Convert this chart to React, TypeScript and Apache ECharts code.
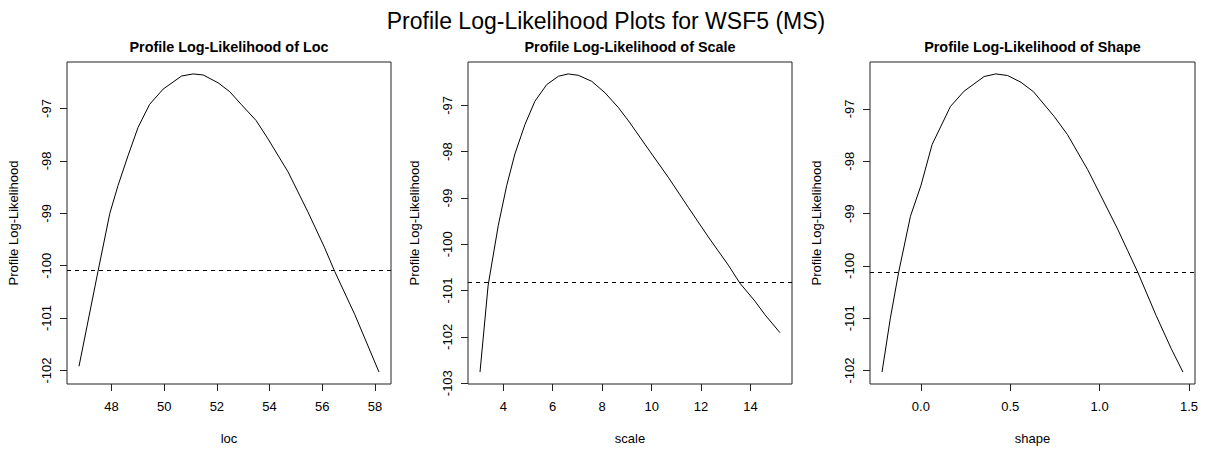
import React, { useEffect, useRef } from "react";
import * as echarts from "echarts";

const mainTitle = "Profile Log-Likelihood Plots for WSF5 (MS)";
const panelTitles = [
  "Profile Log-Likelihood of Loc",
  "Profile Log-Likelihood of Scale",
  "Profile Log-Likelihood of Shape",
];
const xNames = ["loc", "scale", "shape"];
const yName = "Profile Log-Likelihood";

const locX = [46.77, 47.49, 47.94, 48.25, 48.63, 49.01, 49.45, 49.96, 50.66, 51.1, 51.48, 52.05, 52.49, 52.92, 53.49, 53.94, 54.7, 55.45, 56.09, 56.47, 57.23, 58.15];
const locY = [-101.92, -100.11, -99.0, -98.47, -97.9, -97.36, -96.92, -96.63, -96.38, -96.34, -96.36, -96.51, -96.68, -96.92, -97.23, -97.58, -98.21, -98.97, -99.66, -100.11, -100.93, -102.03];

const scaleX = [3.06, 3.39, 3.8, 4.14, 4.47, 4.88, 5.28, 5.76, 6.23, 6.63, 7.04, 7.58, 8.12, 8.66, 9.1, 9.86, 10.67, 11.48, 12.29, 13.1, 13.57, 14.18, 14.58, 15.19];
const scaleY = [-102.76, -100.88, -99.59, -98.73, -98.05, -97.41, -96.91, -96.55, -96.37, -96.32, -96.35, -96.48, -96.73, -97.05, -97.36, -97.94, -98.55, -99.2, -99.84, -100.45, -100.84, -101.23, -101.52, -101.91];

const shapeX = [-0.217, -0.171, -0.124, -0.058, 0.0, 0.063, 0.166, 0.242, 0.354, 0.419, 0.485, 0.56, 0.63, 0.745, 0.82, 0.933, 1.007, 1.101, 1.157, 1.213, 1.316, 1.4, 1.466];
const shapeY = [-102.03, -101.01, -100.12, -99.05, -98.47, -97.68, -96.95, -96.66, -96.38, -96.33, -96.36, -96.49, -96.67, -97.14, -97.49, -98.16, -98.66, -99.3, -99.71, -100.12, -100.95, -101.58, -102.03];

const cutoffs = [-100.08, -100.83, -100.13];

const locXTicks = [48, 50, 52, 54, 56, 58];
const scaleXTicks = [4, 6, 8, 10, 12, 14];
const shapeXTicks = [0.0, 0.5, 1.0, 1.5];
const locYTicks = [-102, -101, -100, -99, -98, -97];
const scaleYTicks = [-103, -102, -101, -100, -99, -98, -97];
const shapeYTicks = [-102, -101, -100, -99, -98, -97];

const FONT = "'Liberation Sans', Arial, sans-serif";

function padRange(arr: number[]): [number, number] {
  const lo = Math.min(...arr);
  const hi = Math.max(...arr);
  const r = hi - lo;
  return [lo - 0.04 * r, hi + 0.04 * r];
}

export default function App() {
  const ref = useRef<HTMLDivElement>(null);
  useEffect(() => {
    if (!ref.current) return;
    const chart = echarts.init(ref.current, undefined, { renderer: "svg" });

    const panels = [
      { xs: locX, ys: locY, xt: locXTicks, yt: locYTicks, fmt: (v: number) => String(v), left: 67, width: 324, height: 325 },
      { xs: scaleX, ys: scaleY, xt: scaleXTicks, yt: scaleYTicks, fmt: (v: number) => String(v), left: 468, width: 324, height: 324 },
      { xs: shapeX, ys: shapeY, xt: shapeXTicks, yt: shapeYTicks, fmt: (v: number) => v.toFixed(1), left: 870, width: 325, height: 324 },
    ];

    const labelStyle = { color: "#000", fontSize: 13, fontFamily: FONT };

    const grid = panels.map((p) => ({
      left: p.left,
      top: 62,
      width: p.width,
      height: p.height,
      show: true,
      borderColor: "#222",
      borderWidth: 1,
      backgroundColor: "transparent",
      containLabel: false,
    }));

    const xAxis = panels.map((p, i) => {
      const [mn, mx] = padRange(p.xs);
      return {
        type: "value",
        gridIndex: i,
        min: mn,
        max: mx,
        axisLine: { show: false, onZero: false },
        splitLine: { show: false },
        axisTick: { show: true, inside: false, length: 7, customValues: p.xt, lineStyle: { color: "#222" } },
        axisLabel: { customValues: p.xt, margin: 16, formatter: p.fmt, ...labelStyle },
        name: xNames[i],
        nameLocation: "middle",
        nameGap: 48,
        nameTextStyle: labelStyle,
      };
    });

    const yAxis = panels.map((p, i) => {
      const [mn, mx] = padRange(p.ys);
      return {
        type: "value",
        gridIndex: i,
        min: mn,
        max: mx,
        axisLine: { show: false, onZero: false },
        splitLine: { show: false },
        axisTick: { show: true, inside: false, length: 7, customValues: p.yt, lineStyle: { color: "#222" } },
        axisLabel: { customValues: p.yt, rotate: 90, margin: 14, formatter: (v: number) => String(v), ...labelStyle },
        name: yName,
        nameLocation: "middle",
        nameGap: 47,
        nameRotate: 90,
        nameTextStyle: labelStyle,
      };
    });

    const series = panels.map((p, i) => ({
      type: "line",
      xAxisIndex: i,
      yAxisIndex: i,
      data: p.xs.map((x, k) => [x, p.ys[k]]),
      showSymbol: false,
      symbol: "none",
      smooth: false,
      lineStyle: { color: "#000", width: 1 },
      silent: true,
      markLine: {
        silent: true,
        symbol: "none",
        label: { show: false },
        lineStyle: { color: "#000", width: 1, type: [4, 4] },
        data: [{ yAxis: cutoffs[i] }],
      },
    }));

    const graphic = [
      {
        type: "text",
        x: 606,
        y: 21,
        style: { text: mainTitle, textAlign: "center", textVerticalAlign: "middle", font: `23px ${FONT}`, fill: "#000" },
      },
      ...panels.map((p, i) => ({
        type: "text",
        x: p.left + p.width / 2,
        y: 47,
        style: {
          text: panelTitles[i],
          textAlign: "center",
          textVerticalAlign: "middle",
          font: `bold 14.4px ${FONT}`,
          fill: "#000",
        },
      })),
    ];

    chart.setOption({
      animation: false,
      backgroundColor: "#fff",
      grid,
      xAxis,
      yAxis,
      series,
      graphic,
    });
    return () => chart.dispose();
  }, []);

  return (
    <div
      ref={ref}
      style={{ position: "absolute", left: 0, top: 0, width: 1206, height: 450, background: "#fff" }}
    />
  );
}
